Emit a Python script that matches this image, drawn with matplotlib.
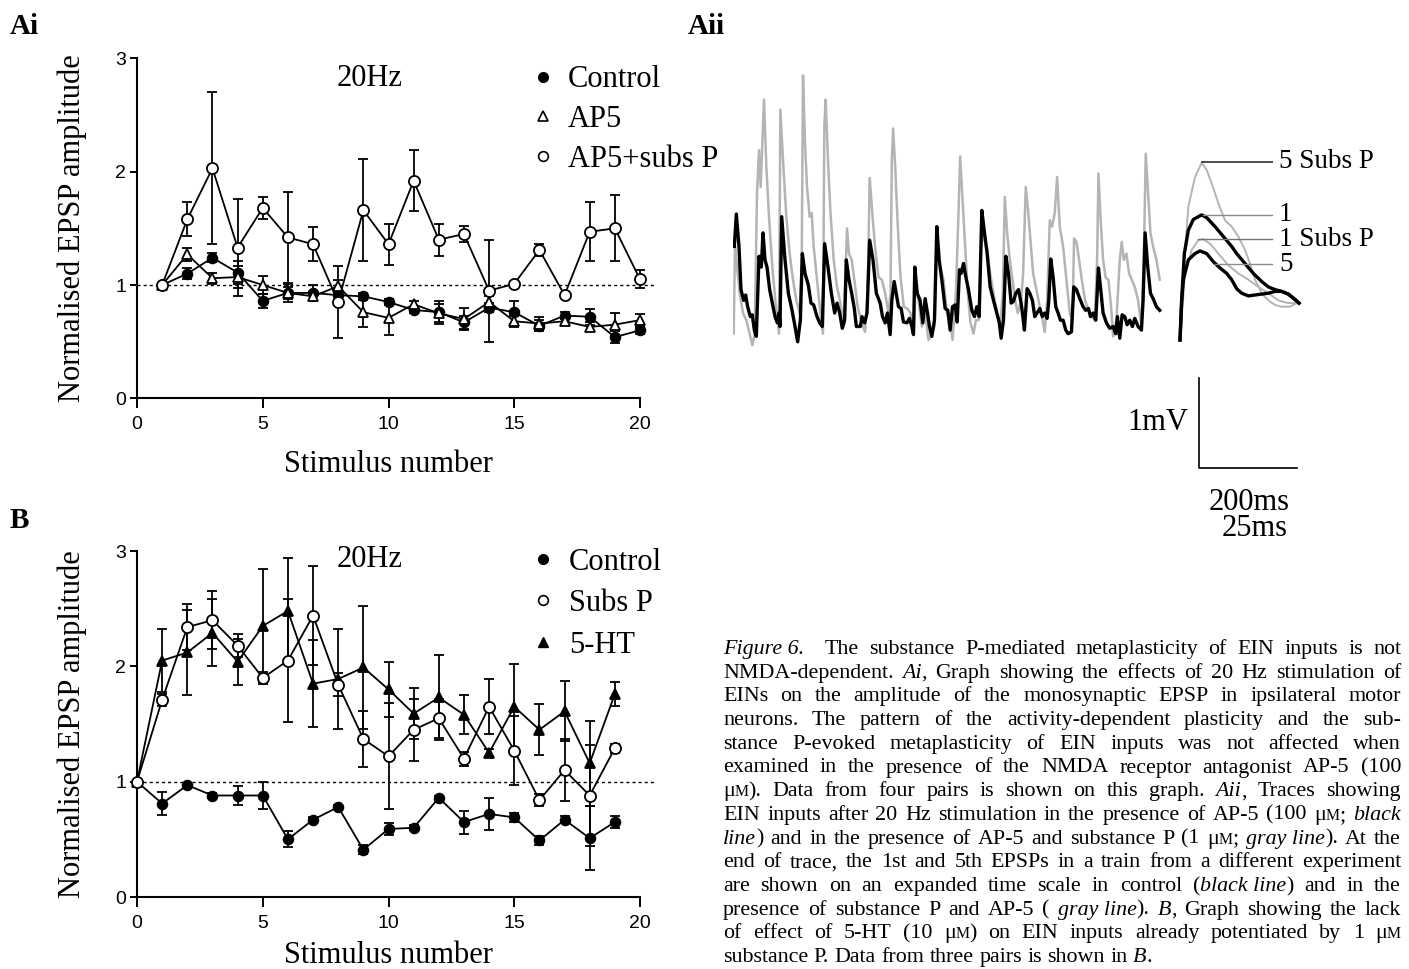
import numpy as np
import matplotlib
matplotlib.use('Agg')
import matplotlib.pyplot as plt
from matplotlib.lines import Line2D

plt.rcParams['font.family'] = ['Liberation Serif', 'DejaVu Serif']

# ---------------- Ai : 20 Hz, AP5 ----------------
stim_ai = list(range(1, 21))
ctrl_ai = [1.00, 1.10, 1.24, 1.11, 0.86, 0.93, 0.93, 0.91, 0.90, 0.85,
           0.78, 0.76, 0.67, 0.80, 0.76, 0.64, 0.73, 0.72, 0.54, 0.60]
ctrl_ai_err = [0, 0.05, 0.04, 0.10, 0.06, 0.08, 0.07, 0.04, 0.03, 0.03,
               0.03, 0.10, 0.06, 0.04, 0.10, 0.05, 0.03, 0.07, 0.05, 0.03]
ap5_ai = [1.00, 1.27, 1.06, 1.07, 1.00, 0.93, 0.90, 0.99, 0.76, 0.71,
          0.83, 0.75, 0.70, 0.85, 0.68, 0.66, 0.68, 0.63, 0.65, 0.69]
ap5_ai_err = [0, 0.06, 0.05, 0.10, 0.08, 0.05, 0.04, 0.05, 0.13, 0.15,
              0.03, 0.08, 0.10, 0.05, 0.05, 0.06, 0.03, 0.04, 0.10, 0.05]
ap5sp_ai = [1.00, 1.58, 2.03, 1.33, 1.68, 1.42, 1.36, 0.85, 1.66, 1.36,
            1.92, 1.40, 1.45, 0.95, 1.01, 1.31, 0.91, 1.47, 1.50, 1.05]
ap5sp_ai_err = [0, 0.15, 0.67, 0.43, 0.10, 0.40, 0.15, 0.32, 0.45, 0.18,
                0.27, 0.14, 0.07, 0.45, 0.02, 0.05, 0.02, 0.26, 0.29, 0.08]

# ---------------- B : 20 Hz, 5-HT ----------------
stim_b = list(range(0, 20))
ctrl_b = [1.00, 0.81, 0.97, 0.88, 0.88, 0.88, 0.50, 0.67, 0.78, 0.41,
          0.59, 0.60, 0.86, 0.65, 0.72, 0.69, 0.49, 0.67, 0.51, 0.65]
ctrl_b_err = [0, 0.10, 0.02, 0.02, 0.08, 0.12, 0.07, 0.02, 0.02, 0.04,
              0.05, 0.02, 0.02, 0.10, 0.14, 0.04, 0.04, 0.03, 0.28, 0.05]
subsp_b = [1.00, 1.71, 2.34, 2.40, 2.18, 1.90, 2.05, 2.44, 1.84, 1.37,
           1.22, 1.45, 1.55, 1.20, 1.65, 1.27, 0.84, 1.10, 0.88, 1.29]
subsp_b_err = [0, 0.05, 0.20, 0.25, 0.10, 0.05, 0.53, 0.43, 0.10, 0.24,
               0.46, 0.27, 0.17, 0.06, 0.24, 0.30, 0.05, 0.27, 0.44, 0.04]
ht_b = [1.00, 2.05, 2.12, 2.29, 2.04, 2.35, 2.48, 1.85, 1.89, 1.99,
        1.80, 1.59, 1.73, 1.58, 1.25, 1.65, 1.45, 1.61, 1.16, 1.76]
ht_b_err = [0, 0.27, 0.37, 0.29, 0.20, 0.49, 0.46, 0.38, 0.43, 0.53,
            0.24, 0.22, 0.37, 0.17, 0.03, 0.37, 0.22, 0.26, 0.37, 0.10]

# ---------------- Aii : traces (ms, mV) ----------------
black_t = [2.7, 6.8, 12.2, 16.3, 21.8, 25.8, 29.9, 35.4, 39.4, 43.5, 47.6, 53.0, 57.8, 61.2,
           65.3, 69.4, 74.8, 80.2, 85.7, 90.4, 93.8, 95.9, 99.3, 106.1, 112.9, 119.7, 126.5,
           131.9, 137.4, 141.4, 146.9, 153.7, 159.1, 164.6, 171.4, 176.8, 182.2, 187.0, 193.8,
           200.6, 207.4, 212.2, 217.6, 223.0, 227.8, 231.2, 236.6, 242.1, 247.5, 251.6, 259.8,
           263.2, 268.6, 273.4, 278.8, 285.6, 292.4, 300.2, 305.0, 310.4, 315.2, 320.6, 324.0,
           328.8, 332.8, 337.6, 343.0, 347.8, 354.6, 360.0, 364.8, 368.2, 370.9, 375.7, 381.8,
           387.2, 392.0, 396.8, 400.8, 405.6, 411.0, 415.8, 420.6, 426.0, 432.8, 438.2, 443.0,
           447.8, 453.2, 457.3, 462.0, 465.4, 470.2, 475.0, 480.4, 487.2, 492.6, 497.4, 502.2,
           507.6, 513.0, 518.5, 524.6, 531.4, 538.2, 543.0, 547.0, 551.8, 556.6, 562.0, 567.4,
           572.2, 577.0, 582.4, 587.8, 590.4, 594.5, 600.0, 605.4, 610.8, 615.6, 620.4, 625.8,
           631.2, 636.0, 640.8, 644.2, 648.2, 653.0, 658.4, 663.2, 668.0, 673.4, 678.8, 683.6,
           690.4, 695.2, 700.6, 707.4, 714.2, 719.6, 725.1, 729.2, 734.6, 740.0, 745.5, 749.6,
           755.0, 761.8, 768.6, 775.4, 780.8, 784.2, 789.0, 793.8, 799.2, 804.0, 809.4, 814.8,
           819.6, 826.4, 833.2, 836.6, 840.7, 846.1, 851.6, 857.0, 863.8, 870.6]
black_v = [1.04, 1.40, 1.04, 0.56, 0.44, 0.50, 0.37, 0.26, 0.28, 0.11, 0.04, 0.93, 0.81, 1.19,
           0.89, 0.81, 0.56, 0.41, 0.26, 0.19, 0.30, 0.15, 1.37, 0.89, 0.52, 0.35, 0.15,
           -0.02, 0.22, 0.96, 0.74, 0.61, 0.41, 0.39, 0.26, 0.19, 0.15, 1.07, 0.81,
           0.52, 0.30, 0.41, 0.30, 0.13, 0.22, 0.89, 0.67, 0.52, 0.35, 0.15, 0.15,
           0.26, 0.19, 0.30, 1.11, 0.89, 0.52, 0.41, 0.26, 0.19, 0.30, 0.06, 0.44,
           0.65, 0.52, 0.37, 0.35, 0.20, 0.19, 0.24, 0.15, 0.06, 0.81, 0.52, 0.44,
           0.19, 0.46, 0.30, 0.15, 0.04, 0.22, 1.26, 0.89, 0.67, 0.35, 0.33, 0.11,
           0.37, 0.39, 0.20, 0.78, 0.74, 0.85, 0.70, 0.56, 0.33, 0.26, 0.37, 0.26,
           1.44, 1.19, 0.96, 0.59, 0.44, 0.30, 0.20, 0.02, 0.22, 0.93, 0.74, 0.41,
           0.43, 0.52, 0.56, 0.41, 0.30, 0.11, 0.57, 0.52, 0.44, 0.26, 0.30, 0.35,
           0.26, 0.30, 0.24, 0.44, 0.90, 0.70, 0.37, 0.30, 0.22, 0.22, 0.11, 0.07,
           0.09, 0.59, 0.56, 0.46, 0.37, 0.33, 0.35, 0.26, 0.30, 0.22, 0.80, 0.59,
           0.30, 0.19, 0.13, 0.15, 0.07, 0.26, 0.02, 0.28, 0.26, 0.17, 0.22, 0.15,
           0.24, 0.15, 0.11, 0.44, 1.19, 0.81, 0.52, 0.46, 0.37, 0.33]

gray_t = [0, 1.4, 4.1, 8.2, 13.6, 20.4, 27.2, 34.0, 39.4, 44.2, 49.0, 53.0, 56.4, 59.8, 63.2,
          68.0, 73.4, 80.2, 87.0, 93.8, 96.6, 102.0, 108.8, 115.6, 122.4, 129.2, 136.0, 140.1,
          142.8, 146.9, 151.0, 156.4, 160.5, 164.6, 171.4, 178.2, 183.6, 186.3, 189.0, 193.8,
          198.6, 205.4, 212.2, 219.0, 225.8, 229.9, 232.6, 236.6, 242.1, 247.5, 254.3, 262.5,
          269.3, 274.7, 278.8, 284.2, 289.7, 296.8, 303.6, 310.4, 317.2, 321.3, 324.0, 326.7,
          330.8, 336.2, 341.7, 348.5, 355.3, 362.1, 368.2, 373.0, 378.4, 385.2, 392.0, 398.8,
          405.6, 411.0, 415.8, 422.6, 429.4, 436.2, 443.0, 447.8, 454.6, 460.0, 463.4, 468.2,
          473.6, 479.0, 484.5, 490.6, 495.4, 500.8, 506.2, 511.7, 517.8, 524.6, 531.4, 538.2,
          545.0, 550.4, 554.5, 559.3, 564.7, 570.2, 575.6, 581.0, 587.8, 591.8, 597.2, 602.0,
          606.8, 612.2, 619.0, 625.8, 632.6, 636.0, 640.8, 646.2, 650.9, 656.4, 661.2, 666.6,
          673.4, 680.2, 687.0, 692.4, 695.8, 700.6, 706.0, 711.5, 718.3, 725.1, 731.9, 738.0,
          742.8, 745.5, 749.6, 755.0, 760.4, 765.9, 771.3, 775.4, 782.2, 789.0, 793.1, 797.2,
          802.6, 808.0, 813.5, 819.6, 826.4, 833.2, 838.0, 842.0, 846.1, 851.6, 857.0, 863.8,
          870.6]
gray_v = [0.37, 0.07, 1.04, 0.81, 0.52, 0.30, 0.22, 0.07, -0.06, 0.07, 1.63, 2.11, 1.70, 2.19, 2.67,
          1.93, 1.37, 0.81, 0.41, 0.07, 2.56, 2.00, 1.37, 0.96, 0.67, 0.44, 0.30, 0.81,
          2.94, 2.19, 1.70, 1.37, 1.41, 1.04, 0.67, 0.30, 0.07, 2.37, 2.67, 2.00,
          1.44, 0.89, 0.59, 0.41, 0.19, 0.81, 1.24, 0.96, 0.89, 0.67, 0.37, 0.19,
          0.09, 0.52, 1.80, 1.41, 1.04, 0.70, 0.67, 0.52, 0.30, 0.52, 2.00, 2.35,
          1.93, 1.26, 0.70, 0.37, 0.35, 0.30, 0.07, 0.67, 0.44, 0.15, 0.30, 0.00,
          0.07, 0.15, 1.04, 0.81, 0.67, 0.30, 0.22, 0.00, 0.52, 1.41, 2.04, 1.56,
          1.04, 0.52, 0.19, 0.07, 0.22, 0.22, 1.04, 1.19, 1.04, 0.74, 0.52, 0.30,
          0.15, 0.52, 1.59, 1.19, 0.89, 0.67, 0.44, 0.30, 0.44, 0.74, 1.70, 1.44,
          1.11, 0.74, 0.56, 0.37, 0.19, 0.09, 0.44, 1.33, 1.26, 1.41, 1.81, 1.26,
          1.04, 0.67, 0.30, 0.22, 1.13, 1.09, 0.89, 0.67, 0.44, 0.33, 0.26, 0.22,
          0.89, 1.85, 1.37, 0.89, 0.69, 0.67, 0.37, 0.04, 0.22, 0.89, 1.09, 0.89,
          0.96, 0.74, 0.67, 0.59, 0.44, 0.15, 0.89, 2.07, 1.70, 1.19, 1.04, 0.89,
          0.67]

# expanded 1st / 5th EPSPs
ctrl1_t = [911.9, 915.3, 920.7, 928.9, 939.1, 956.1, 966.3, 983.3, 1000.3, 1017.3, 1027.5,
           1044.5, 1061.5, 1078.5, 1092.1, 1105.7, 1119.3, 1132.9, 1146.5, 1154.7]
ctrl1_v = [0, 0.44, 0.96, 1.22, 1.34, 1.39, 1.36, 1.26, 1.15, 1.04, 0.96,
           0.85, 0.74, 0.65, 0.59, 0.56, 0.54, 0.51, 0.45, 0.41]
ctrl5_t = [911.9, 915.3, 918.7, 928.9, 942.5, 952.7, 966.3, 979.9, 993.5, 1007.1, 1017.3,
           1027.5, 1037.7, 1051.3, 1064.9, 1078.5, 1092.1, 1105.7, 1119.3, 1132.9, 1146.5, 1154.7]
ctrl5_v = [0, 0.44, 0.67, 0.89, 0.96, 0.99, 0.96, 0.87, 0.80, 0.74, 0.67,
           0.57, 0.52, 0.49, 0.50, 0.51, 0.52, 0.54, 0.54, 0.51, 0.45, 0.41]
sp5_t = [911.9, 918.7, 928.9, 942.5, 956.1, 966.3, 976.5, 990.1, 1003.7, 1017.3, 1030.9,
         1044.5, 1054.7, 1064.9, 1078.5, 1092.1, 1105.7, 1119.3, 1136.3, 1149.9]
sp5_v = [0, 0.74, 1.48, 1.81, 1.97, 1.89, 1.74, 1.52, 1.33, 1.26, 1.15,
         1.00, 0.85, 0.67, 0.52, 0.44, 0.39, 0.37, 0.37, 0.41]
sp1_t = [911.9, 922.1, 935.7, 949.3, 959.5, 973.1, 990.1, 1010.5, 1030.9, 1051.3, 1071.7,
         1092.1, 1112.5, 1132.9, 1149.9]
sp1_v = [0, 0.74, 1.00, 1.11, 1.12, 1.07, 0.96, 0.83, 0.74, 0.67, 0.59,
         0.52, 0.44, 0.41, 0.41]

peak_labels = ['5 Subs P', '1', '1 Subs P', '5']
peak_label_v = [1.98, 1.39, 1.12, 0.84]
peak_label_t0 = [956.1, 959.5, 949.3, 983.3]
peak_label_colors = ['0.3', '0.55', '0.45', '0.55']

scale_mv = 1.0
scale_ms = 200.0

caption = [
    "_Figure\u00a06._  The substance P-mediated metaplasticity of EIN inputs is not",
    "NMDA-dependent. _Ai_, Graph showing the effects of 20 Hz stimulation of",
    "EINs on the amplitude of the monosynaptic EPSP in ipsilateral motor",
    "neurons. The pattern of the activity-dependent plasticity and the sub-",
    "stance P-evoked metaplasticity of EIN inputs was not affected when",
    "examined in the presence of the NMDA receptor antagonist AP-5 (100",
    "μ~M~). Data from four pairs is shown on this graph. _Aii_, Traces showing",
    "EIN inputs after 20 Hz stimulation in the presence of AP-5 (100 μ~M~; _black_",
    "_line_) and in the presence of AP-5 and substance P (1 μ~M~; _gray\u00a0line_). At the",
    "end of trace, the 1st and 5th EPSPs in a train from a different experiment",
    "are shown on an expanded time scale in control (_black\u00a0line_) and in the",
    "presence of substance P and AP-5 ( _gray\u00a0line_). _B_, Graph showing the lack",
    "of effect of 5-HT (10 μ~M~) on EIN inputs already potentiated by 1 μ~M~",
    "substance P. Data from three pairs is shown in _B_.",
]

W, H = 1409, 969
fig = plt.figure(figsize=(W / 100, H / 100), dpi=100)
fig.patch.set_facecolor('white')


def px_box(x0, y_top, x1, y_bot):
    return [x0 / W, 1 - y_bot / H, (x1 - x0) / W, (y_bot - y_top) / H]


def style_axes(ax):
    for s in ['top', 'right']:
        ax.spines[s].set_visible(False)
    ax.spines['left'].set_bounds(0, 3)
    ax.spines['bottom'].set_bounds(0, 20)
    ax.spines['left'].set_linewidth(1.5)
    ax.spines['bottom'].set_linewidth(1.5)
    ax.set_xlim(0, 20)
    ax.set_ylim(0, 3)
    ax.set_xticks([0, 5, 10, 15, 20])
    ax.set_yticks([0, 1, 2, 3])
    ax.tick_params(direction='out', length=5, width=1.4, labelsize=14,
                   labelfontfamily='Liberation Sans', pad=3)
    ax.tick_params(axis='x', length=7, pad=6)
    ax.axhline(1, xmin=0, xmax=1.03, color='black', lw=1.0,
               linestyle=(0, (2.2, 2.2)), clip_on=False, zorder=1)
    ax.set_xlabel('Stimulus number', fontsize=22)
    ax.set_ylabel('Normalised EPSP amplitude', fontsize=22)


def series(ax, x, y, e, marker, face, ms):
    ax.errorbar(x, y, yerr=e, color='black', lw=1.3, elinewidth=1.3,
                capsize=3.5, capthick=1.3, marker=marker, ms=ms,
                mfc=face, mec='black', mew=1.3, clip_on=False, zorder=3)


# ---- Ai
ax1 = fig.add_axes(px_box(137, 58.4, 640, 398.3))
style_axes(ax1)
series(ax1, stim_ai, ctrl_ai, ctrl_ai_err, 'o', 'black', 7)
series(ax1, stim_ai, ap5_ai, ap5_ai_err, '^', 'white', 7.5)
series(ax1, stim_ai, ap5sp_ai, ap5sp_ai_err, 'o', 'white', 8)
ax1.text(0.463, 0.94, '20Hz', transform=ax1.transAxes, fontsize=22,
         ha='center', va='center')
h1 = [Line2D([], [], ls='', marker='o', ms=7, mfc='black', mec='black'),
      Line2D([], [], ls='', marker='^', ms=7, mfc='white', mec='black', mew=1.2),
      Line2D([], [], ls='', marker='o', ms=7, mfc='white', mec='black', mew=1.2)]
ax1.legend(h1, ['Control', 'AP5', 'AP5+subs P'], loc='upper left',
           bbox_to_anchor=(0.783, 0.98), frameon=False, fontsize=22,
           handlelength=0.8, handletextpad=0.4, labelspacing=0.35,
           borderaxespad=0, borderpad=0)
ax1.yaxis.set_label_coords(-0.10, 0.5)
ax1.xaxis.set_label_coords(0.5, -0.152)

# ---- B
ax3 = fig.add_axes(px_box(137, 551, 640, 897))
style_axes(ax3)
series(ax3, stim_b, ctrl_b, ctrl_b_err, 'o', 'black', 7)
series(ax3, stim_b, ht_b, ht_b_err, '^', 'black', 7.5)
series(ax3, stim_b, subsp_b, subsp_b_err, 'o', 'white', 8)
ax3.text(0.463, 0.975, '20Hz', transform=ax3.transAxes, fontsize=22,
         ha='center', va='center')
h3 = [Line2D([], [], ls='', marker='o', ms=7, mfc='black', mec='black'),
      Line2D([], [], ls='', marker='o', ms=7, mfc='white', mec='black', mew=1.2),
      Line2D([], [], ls='', marker='^', ms=7, mfc='black', mec='black')]
ax3.legend(h3, ['Control', 'Subs P', '5-HT'], loc='upper left',
           bbox_to_anchor=(0.783, 1.01), frameon=False, fontsize=22,
           handlelength=0.8, handletextpad=0.45, labelspacing=0.41,
           borderaxespad=0, borderpad=0)
ax3.yaxis.set_label_coords(-0.10, 0.5)
ax3.xaxis.set_label_coords(0.5, -0.128)

# ---- Aii traces
ax2 = fig.add_axes(px_box(733, 60, 1409, 560))
ax2.set_xlim(0, 676 * 2.04)
ax2.set_ylim((340 - 560) / 90, (340 - 60) / 90)
ax2.axis('off')
ax2.plot(gray_t, gray_v, color='#b4b4b4', lw=1.8, solid_joinstyle='round')
ax2.plot(black_t, black_v, color='black', lw=2.4, solid_joinstyle='round')
ax2.plot(sp5_t, sp5_v, color='#b4b4b4', lw=1.4)
ax2.plot(sp1_t, sp1_v, color='#b4b4b4', lw=1.4)
ax2.plot(ctrl1_t, ctrl1_v, color='black', lw=2.4)
ax2.plot(ctrl5_t, ctrl5_v, color='black', lw=2.4)
lab_t1 = 1100.0
for lab, v, t0, c in zip(peak_labels, peak_label_v, peak_label_t0, peak_label_colors):
    ax2.plot([t0, lab_t1], [v, v], color=c, lw=1.4 if lab == '5 Subs P' else 1.0)
    ax2.text(lab_t1 + 14, v, lab, fontsize=19.5, ha='left', va='center')

# scale bar
sb_t, sb_v = 950.6, -1.42
ax2.plot([sb_t, sb_t, sb_t + scale_ms], [sb_v + scale_mv, sb_v, sb_v],
         color='black', lw=1.2)
ax2.text(sb_t - 22, sb_v + scale_mv / 2, '1mV', fontsize=22, ha='right', va='center')
ax2.text(sb_t + 102, sb_v - 0.38, '200ms', fontsize=22, ha='center', va='center')
ax2.text(sb_t + 114, sb_v - 0.67, '25ms', fontsize=22, ha='center', va='center')

# panel letters
fig.text(10 / W, 1 - 26 / H, 'Ai', fontsize=21, fontweight='bold', va='center')
fig.text(688 / W, 1 - 26 / H, 'Aii', fontsize=21, fontweight='bold', va='center')
fig.text(10 / W, 1 - 521 / H, 'B', fontsize=21, fontweight='bold', va='center')


# ---- caption, justified
def parse_words(line):
    words, cur, buf = [], [], ''
    italic = small = False
    for ch in line:
        if ch in '_~ ':
            if buf:
                cur.append((buf, italic, small))
                buf = ''
            if ch == '_':
                italic = not italic
            elif ch == '~':
                small = not small
            else:
                words.append(cur)
                cur = []
        else:
            buf += ch
    if buf:
        cur.append((buf, italic, small))
    words.append(cur)
    return words


cap_fs = 15.8
cap_left, cap_right = 723, 1401
cap_y0, cap_dy = 654, 23.7
fig.canvas.draw()
rend = fig.canvas.get_renderer()
for i, line in enumerate(caption):
    words = parse_words(line)
    items = []
    for w in words:
        pieces = []
        for s, it, sm in w:
            t = fig.text(0, 0, s.replace('\u00a0', ' '), fontsize=cap_fs * (0.72 if sm else 1),
                         style='italic' if it else 'normal', va='baseline', ha='left')
            pieces.append((t, t.get_window_extent(renderer=rend).width))
        items.append(pieces)
    widths = [sum(p[1] for p in pieces) for pieces in items]
    ngap = len(items) - 1
    if i < len(caption) - 1:
        gap = (cap_right - cap_left - sum(widths)) / ngap
    else:
        gap = cap_fs * 0.25 * 100 / 72
    x = cap_left
    yb = 1 - (cap_y0 + i * cap_dy) / H
    for pieces, w in zip(items, widths):
        for t, pw in pieces:
            t.set_position((x / W, yb))
            x += pw
        x += gap

fig.savefig('out.png', dpi=100)
